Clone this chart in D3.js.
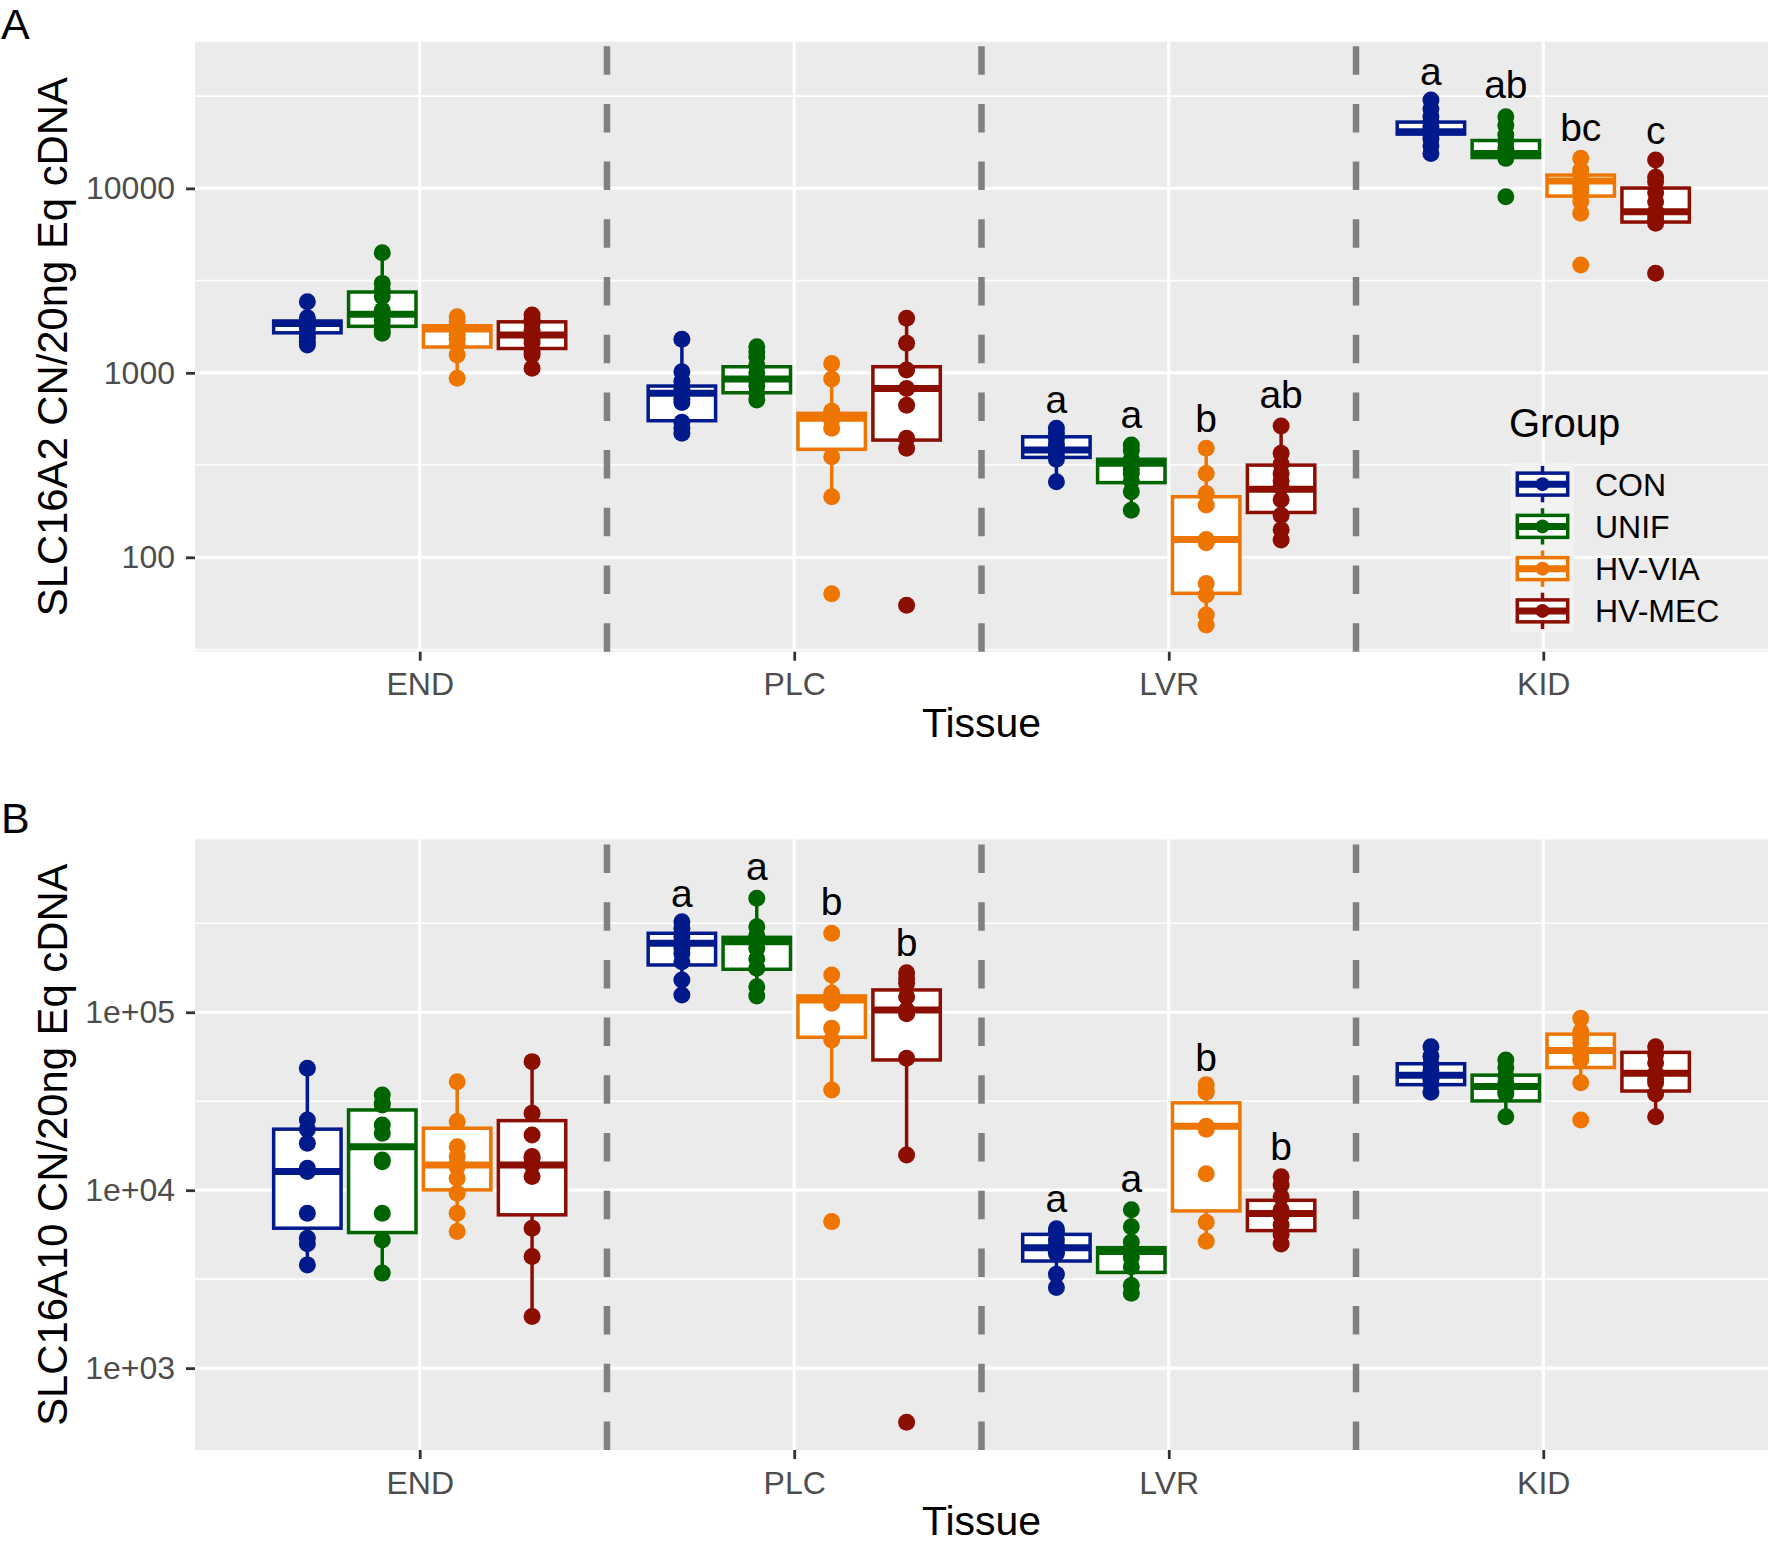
<!DOCTYPE html>
<html><head><meta charset="utf-8">
<script src="https://cdn.jsdelivr.net/npm/d3@7"></script>
<style>
body{margin:0;background:#fff}
svg{display:block}
text{font-family:"Liberation Sans", Arial, Helvetica, sans-serif}
</style>
</head><body>
<svg id="chart" width="1770" height="1544"></svg>
<script>
// ---------------- data ----------------
const tissues = ["END", "PLC", "LVR", "KID"];
const groups = ["CON", "UNIF", "HV-VIA", "HV-MEC"];
const groupColors = ["#001A8C", "#006400", "#EE7600", "#8B0E00"];

// Panel A: SLC16A2 -- box stats [lowWhisker, Q1, median, Q3, highWhisker], order CON, UNIF, HV-VIA, HV-MEC
const a2_END_box = [[1415, 1648, 1850, 1910, 2425], [1640, 1787, 2080, 2742, 4479], [934, 1380, 1728, 1800, 2012], [1058, 1355, 1603, 1890, 2057]];
const a2_END_pts = [[2425, 1990, 1900, 1850, 1750, 1650, 1560, 1480, 1414], [4479, 3054, 2800, 2590, 2185, 2080, 1930, 1800, 1700, 1640], [2012, 1900, 1800, 1728, 1600, 1520, 1420, 1250, 934], [2057, 1950, 1850, 1700, 1603, 1530, 1450, 1300, 1250, 1058]];
const a2_PLC_box = [[470, 550, 774, 848, 1519], [712, 780, 926, 1079, 1385], [213, 385, 567, 603, 1125], [390, 432, 823, 1079, 1974]];
const a2_PLC_pts = [[1519, 1014, 900, 820, 774, 720, 690, 540, 500, 470], [1385, 1300, 1222, 1100, 1000, 926, 900, 850, 780, 712], [1125, 926, 620, 580, 555, 500, 351, 213, 63.5], [1974, 1446, 1035, 823, 668, 442, 390, 55]];
const a2_LVR_box = [[257, 348, 382, 450, 500], [180, 254, 323, 340, 406], [43, 63.8, 125, 213, 390], [124, 175, 234, 316, 515]];
const a2_LVR_pts = [[500, 470, 440, 410, 390, 382, 360, 340, 257], [406, 380, 340, 325, 320, 300, 285, 260, 227, 180], [390, 285, 222, 192, 125, 120, 72, 62.5, 48.7, 43], [515, 366, 320, 285, 260, 241, 205, 169, 141, 124]];
const a2_KID_box = [[15460, 19690, 20300, 22870, 30100], [14540, 14690, 15470, 18170, 24430], [7320, 9080, 10950, 11800, 14540], [6460, 6568, 7466, 10037, 14230]];
const a2_KID_pts = [[30100, 27000, 24500, 23000, 21500, 20300, 19500, 18500, 17000, 15460], [24430, 22000, 19450, 18000, 16470, 15470, 15000, 14540, 9010], [14540, 12570, 12000, 11000, 10500, 10000, 9500, 8500, 7320, 3838], [14230, 11500, 10860, 9500, 8460, 7500, 7200, 6800, 6460, 3463]];
const a2_LVR_letters = ["a", "a", "b", "ab"];
const a2_LVR_letterY = [606, 502, 478, 647];
const a2_KID_letters = ["a", "ab", "bc", "c"];
const a2_KID_letterY = [36500, 30800, 18100, 17300];

// Panel B: SLC16A10
const a10_END_box = [[3805, 6116, 12720, 22030, 48450], [3420, 5780, 17570, 28250, 34310], [5855, 10040, 13870, 22300, 40740], [1950, 7270, 13870, 24600, 52790]];
const a10_END_pts = [[48450, 24830, 22000, 18360, 13290, 12720, 7430, 5370, 5000, 3805], [34310, 31000, 30130, 23280, 20900, 14800, 14470, 7430, 5257, 3420], [40740, 24290, 17570, 15480, 14000, 13500, 11670, 9620, 7430, 5855], [52790, 27070, 20450, 15480, 15140, 13870, 11930, 6116, 4236, 1950]];
const a10_PLC_box = [[125100, 184400, 244100, 277900, 322600], [123500, 174400, 249300, 263700, 436900], [36600, 72350, 117300, 123500, 162000], [15790, 53950, 103000, 133500, 166900]];
const a10_PLC_pts = [[322600, 296500, 265900, 244100, 230000, 214400, 192300, 151900, 125100], [436900, 302700, 270000, 249300, 228900, 200000, 176600, 139300, 123500], [277900, 162000, 127900, 118000, 112300, 81300, 69900, 36600, 6660], [166900, 155000, 145500, 122400, 103000, 98000, 55150, 15790, 497]];
const a10_LVR_box = [[2840, 4000, 4753, 5646, 6076], [2637, 3452, 4524, 4753, 7762], [5170, 7650, 22860, 30970, 39200], [4992, 5929, 7390, 8776, 11890]];
const a10_LVR_pts = [[6076, 5800, 5245, 4900, 4753, 4500, 4416, 3370, 2840], [7762, 6229, 5117, 4700, 4524, 4204, 3715, 2911, 2637], [39200, 36500, 35530, 22860, 22000, 12380, 6600, 5170], [11890, 10690, 9200, 7762, 7390, 7210, 6383, 5646, 4992]];
const a10_KID_box = [[35530, 39200, 44320, 51370, 64070], [25850, 31750, 38240, 44320, 53950], [40180, 48910, 61020, 75340, 92530], [25850, 36080, 45430, 59530, 64070]];
const a10_KID_pts = [[64070, 56620, 51000, 47000, 44320, 42000, 39500, 35530], [53950, 48910, 44000, 40000, 38240, 36000, 34680, 25850], [92530, 77920, 72000, 67300, 61020, 58000, 53950, 40180, 24830], [64070, 58080, 52000, 45430, 42000, 40180, 34680, 25850]];
const a10_PLC_letters = ["a", "a", "b", "b"];
const a10_PLC_letterY = [391700, 553400, 353500, 208000];
const a10_LVR_letters = ["a", "a", "b", "b"];
const a10_LVR_letterY = [7570, 9780, 47030, 14700];

// axis ticks
const a2_majorTicks = [100, 1000, 10000];
const a2_tickLabels = ["100", "1000", "10000"];
const a10_majorTicks = [1e3, 1e4, 1e5];
const a10_tickLabels = ["1e+03", "1e+04", "1e+05"];

// ---------------- drawing ----------------
const svg = d3.select("#chart");
const FONT_AXIS = 32, FONT_TITLE = 41;

function drawPanel(cfg) {
  const g = svg.append("g");
  const {left, right, top, bottom} = cfg;
  const y = d3.scaleLog().domain(cfg.domain).range([bottom, top]);
  const x = d3.scalePoint().domain(tissues).range([left, right]).padding(0.6);
  const step = x.step();
  const xg = d3.scaleBand().domain(groups).range([-0.4 * step, 0.4 * step]);
  const gx = (t, gi) => x(t) + xg(groups[gi]) + xg.bandwidth() / 2;
  const bw = xg.bandwidth() * 0.9;

  // panel background
  g.append("rect").attr("x", left).attr("y", top).attr("width", right - left).attr("height", bottom - top).attr("fill", "#EBEBEB");

  // minor gridlines
  const lo = Math.log10(cfg.domain[0]), hi = Math.log10(cfg.domain[1]);
  const minors = [];
  for (let k = Math.floor(lo); k <= Math.ceil(hi); k++) {
    const v = Math.pow(10, k + 0.5);
    if (v > cfg.domain[0] && v < cfg.domain[1]) minors.push(v);
  }
  g.selectAll(".minor").data(minors).join("line")
    .attr("x1", left).attr("x2", right).attr("y1", d => y(d)).attr("y2", d => y(d))
    .attr("stroke", "#fff").attr("stroke-width", 1.6);
  g.selectAll(".major").data(cfg.ticks).join("line")
    .attr("x1", left).attr("x2", right).attr("y1", d => y(d)).attr("y2", d => y(d))
    .attr("stroke", "#fff").attr("stroke-width", 3.2);
  g.selectAll(".vgrid").data(tissues).join("line")
    .attr("x1", d => x(d)).attr("x2", d => x(d)).attr("y1", top).attr("y2", bottom)
    .attr("stroke", "#fff").attr("stroke-width", 3.2);

  // dashed separators (drawn bottom -> top)
  const seps = tissues.slice(0, -1).map((t, i) => (x(t) + x(tissues[i + 1])) / 2);
  g.selectAll(".sep").data(seps).join("line")
    .attr("x1", d => d).attr("x2", d => d).attr("y1", bottom).attr("y2", top)
    .attr("stroke", "#808080").attr("stroke-width", 6.5).attr("stroke-dasharray", "28.5 29.2");

  // boxplots
  tissues.forEach((t, ti) => {
    cfg.boxes[ti].forEach((b, gi) => {
      const cx = gx(t, gi), col = groupColors[gi];
      const [wl, q1, med, q3, wh] = b;
      g.append("line").attr("x1", cx).attr("x2", cx).attr("y1", y(q3)).attr("y2", y(wh)).attr("stroke", col).attr("stroke-width", 3.5);
      g.append("line").attr("x1", cx).attr("x2", cx).attr("y1", y(q1)).attr("y2", y(wl)).attr("stroke", col).attr("stroke-width", 3.5);
      g.append("rect").attr("x", cx - bw / 2).attr("width", bw).attr("y", y(q3)).attr("height", y(q1) - y(q3))
        .attr("fill", "#fff").attr("stroke", col).attr("stroke-width", 3.5);
      g.append("line").attr("x1", cx - bw / 2).attr("x2", cx + bw / 2).attr("y1", y(med)).attr("y2", y(med))
        .attr("stroke", col).attr("stroke-width", 7);
    });
  });
  // points
  tissues.forEach((t, ti) => {
    cfg.points[ti].forEach((pts, gi) => {
      g.selectAll(null).data(pts).join("circle")
        .attr("cx", gx(t, gi)).attr("cy", d => y(d)).attr("r", 8.5).attr("fill", groupColors[gi]);
    });
  });
  // letters
  cfg.letters.forEach(L => {
    L.labels.forEach((lab, gi) => {
      g.append("text").attr("x", gx(L.tissue, gi)).attr("y", y(L.values[gi]))
        .attr("text-anchor", "middle").attr("font-size", 39).attr("fill", "#000").text(lab);
    });
  });

  // axes
  const yAxis = d3.axisLeft(y).tickValues(cfg.ticks).tickFormat((d, i) => cfg.tickLabels[i]).tickSize(9).tickPadding(11);
  const ya = g.append("g").attr("transform", `translate(${left},0)`).call(yAxis);
  ya.select(".domain").remove();
  ya.selectAll("line").attr("stroke", "#333").attr("stroke-width", 2.8);
  ya.selectAll("text").attr("font-size", FONT_AXIS).attr("fill", "#4D4D4D").attr("font-family", "Liberation Sans, Arial, sans-serif");

  const xAxis = d3.axisBottom(x).tickSize(9).tickPadding(12);
  const xa = g.append("g").attr("transform", `translate(0,${bottom})`).call(xAxis);
  xa.select(".domain").remove();
  xa.selectAll("line").attr("stroke", "#333").attr("stroke-width", 2.8);
  xa.selectAll("text").attr("font-size", FONT_AXIS).attr("fill", "#4D4D4D").attr("font-family", "Liberation Sans, Arial, sans-serif");

  // titles
  g.append("text").attr("x", (left + right) / 2).attr("y", bottom + 85).attr("text-anchor", "middle")
    .attr("font-size", FONT_TITLE).attr("fill", "#000").text("Tissue");
  g.append("text").attr("transform", `translate(67,${(top + bottom) / 2}) rotate(-90)`).attr("text-anchor", "middle")
    .attr("font-size", 41.8).attr("fill", "#000").text(cfg.yTitle);
  g.append("text").attr("x", 1).attr("y", cfg.tagY).attr("font-size", 43).attr("fill", "#000").text(cfg.tag);

  // legend
  if (cfg.legend) {
    const L = cfg.legend;
    g.append("text").attr("x", L.x - 2).attr("y", L.titleY).attr("font-size", 40).attr("fill", "#000").text("Group");
    const kw = 63, kh = 42.25;
    groups.forEach((grp, i) => {
      const ky = L.keyTop + i * kh, kx = L.x, col = groupColors[i];
      const cx = kx + kw / 2, cy = ky + kh / 2;
      g.append("rect").attr("x", kx).attr("y", ky).attr("width", kw).attr("height", kh).attr("fill", "#F2F2F2");
      g.append("line").attr("x1", cx).attr("x2", cx).attr("y1", ky + 0.07 * kh).attr("y2", ky + 0.93 * kh).attr("stroke", col).attr("stroke-width", 3.5);
      g.append("rect").attr("x", kx + 0.1 * kw).attr("y", ky + 0.24 * kh).attr("width", 0.8 * kw).attr("height", 0.52 * kh)
        .attr("fill", "#fff").attr("stroke", col).attr("stroke-width", 3.5);
      g.append("line").attr("x1", kx + 0.1 * kw).attr("x2", kx + 0.9 * kw).attr("y1", cy).attr("y2", cy).attr("stroke", col).attr("stroke-width", 7);
      g.append("circle").attr("cx", cx).attr("cy", cy).attr("r", 7).attr("fill", col);
      g.append("text").attr("x", L.labelX).attr("y", cy).attr("dy", "0.36em").attr("font-size", FONT_AXIS).attr("fill", "#000").text(grp);
    });
  }
}

drawPanel({
  left: 195, right: 1768, top: 41.7, bottom: 651.7,
  domain: [Math.pow(10, 1.4883), Math.pow(10, 4.795)],
  ticks: a2_majorTicks, tickLabels: a2_tickLabels,
  boxes: [a2_END_box, a2_PLC_box, a2_LVR_box, a2_KID_box],
  points: [a2_END_pts, a2_PLC_pts, a2_LVR_pts, a2_KID_pts],
  letters: [{tissue: "LVR", labels: a2_LVR_letters, values: a2_LVR_letterY}, {tissue: "KID", labels: a2_KID_letters, values: a2_KID_letterY}],
  yTitle: "SLC16A2 CN/20ng Eq cDNA", tag: "A", tagY: 39,
  legend: {x: 1511, titleY: 437, keyTop: 463, labelX: 1595}
});
drawPanel({
  left: 195, right: 1768, top: 839.3, bottom: 1450,
  domain: [Math.pow(10, 2.540), Math.pow(10, 5.972)],
  ticks: a10_majorTicks, tickLabels: a10_tickLabels,
  boxes: [a10_END_box, a10_PLC_box, a10_LVR_box, a10_KID_box],
  points: [a10_END_pts, a10_PLC_pts, a10_LVR_pts, a10_KID_pts],
  letters: [{tissue: "PLC", labels: a10_PLC_letters, values: a10_PLC_letterY}, {tissue: "LVR", labels: a10_LVR_letters, values: a10_LVR_letterY}],
  yTitle: "SLC16A10 CN/20ng Eq cDNA", tag: "B", tagY: 833,
  legend: null
});
</script>
</body></html>
